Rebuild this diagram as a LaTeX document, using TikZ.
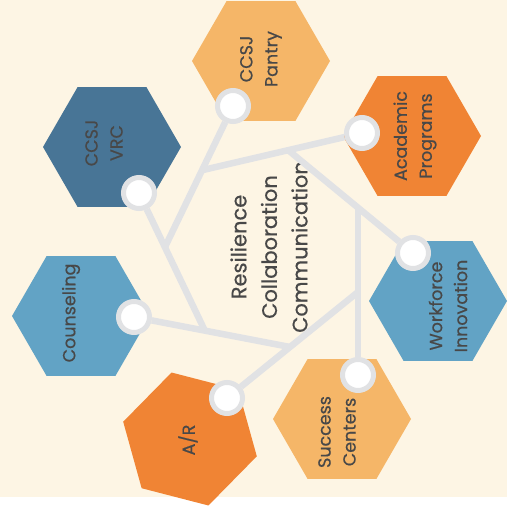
\documentclass[tikz,border=0pt]{standalone}
\usepackage{fontspec}
\setmainfont{Poppins}[FakeBold=0.6]
\usepackage{tikz}
\usetikzlibrary{shapes.geometric}
\definecolor{cream}{RGB}{253,245,228}
\definecolor{sand}{RGB}{245,182,104}
\definecolor{rust}{RGB}{240,132,52}
\definecolor{navy}{RGB}{72,117,150}
\definecolor{sky}{RGB}{98,163,197}
\definecolor{wire}{RGB}{225,226,228}
\definecolor{ink}{RGB}{72,72,72}
\tikzstyle{Hexa}=[regular polygon, regular polygon sides=6, minimum size=138, inner sep=0pt]
\tikzstyle{Dot}=[circle, fill=white, draw=wire, line width=5, minimum size=31, inner sep=0pt]
\tikzstyle{Tag}=[rotate=90, align=center, text=ink, font=\fontsize{17.5}{25}\selectfont]
\tikzstyle{Wire}=[draw=wire, line width=6.5]

\begin{document}
\begin{tikzpicture}[x=1pt, y=-1pt]
    \useasboundingbox (0,0) rectangle (507,509);
    \fill[cream] (0,0) rectangle (507,497);

    \path
    (261,61) node[Hexa, fill=sand] (pantry) {}
    (112,147) node[Hexa, fill=navy] (vrc) {}
    (412,136) node[Hexa, fill=rust] (academic) {}
    (438,301) node[Hexa, fill=sky] (workforce) {}
    (342,419) node[Hexa, fill=sand] (success) {}
    (190,439) node[Hexa, fill=rust, shape border rotate=-14.5] (ar) {}
    (81,316) node[Hexa, fill=sky] (counseling) {};

    \path
    (233,106) node[Dot] (pantrydot) {}
    (139,193) node[Dot] (vrcdot) {}
    (362,133) node[Dot] (academicdot) {}
    (413,253) node[Dot] (workforcedot) {}
    (358,375) node[Dot] (successdot) {}
    (227,398) node[Dot] (ardot) {}
    (134,317) node[Dot] (counselingdot) {};

    \path
    (261,59) node[Tag] (pantrytxt) {CCSJ\\Pantry}
    (104,143) node[Tag] (vrctxt) {CCSJ\\VRC}
    (415,136) node[Tag] (academictxt) {Academic\\Programs}
    (448,306) node[Tag] (workforcetxt) {Workforce\\Innovation}
    (337,432) node[Tag] (successtxt) {Success\\Centers}
    (188,440) node[Tag] (artxt) {A/R}
    (71,313) node[Tag] (counselingtxt) {Counseling}
    (269,247) node[Tag, font=\fontsize{21}{30.5}\selectfont] (core) {Resilience\\Collaboration\\Communication};

    % where the spokes meet
    \coordinate (ja) at (165,247);
    \coordinate (jb) at (203,170);
    \coordinate (jc) at (288,150);
    \coordinate (jd) at (358,208);
    \coordinate (je) at (358,292);
    \coordinate (jf) at (290,347);
    \coordinate (jg) at (205,331);

    \draw[Wire] (pantrydot) -- (ja);
    \draw[Wire] (academicdot) -- (jb);
    \draw[Wire] (jc) -- (workforcedot);
    \draw[Wire] (successdot) -- (jd);
    \draw[Wire] (ardot) -- (je);
    \draw[Wire] (counselingdot) -- (jf);
    \draw[Wire] (vrcdot) -- (jg);
\end{tikzpicture}
\end{document}
